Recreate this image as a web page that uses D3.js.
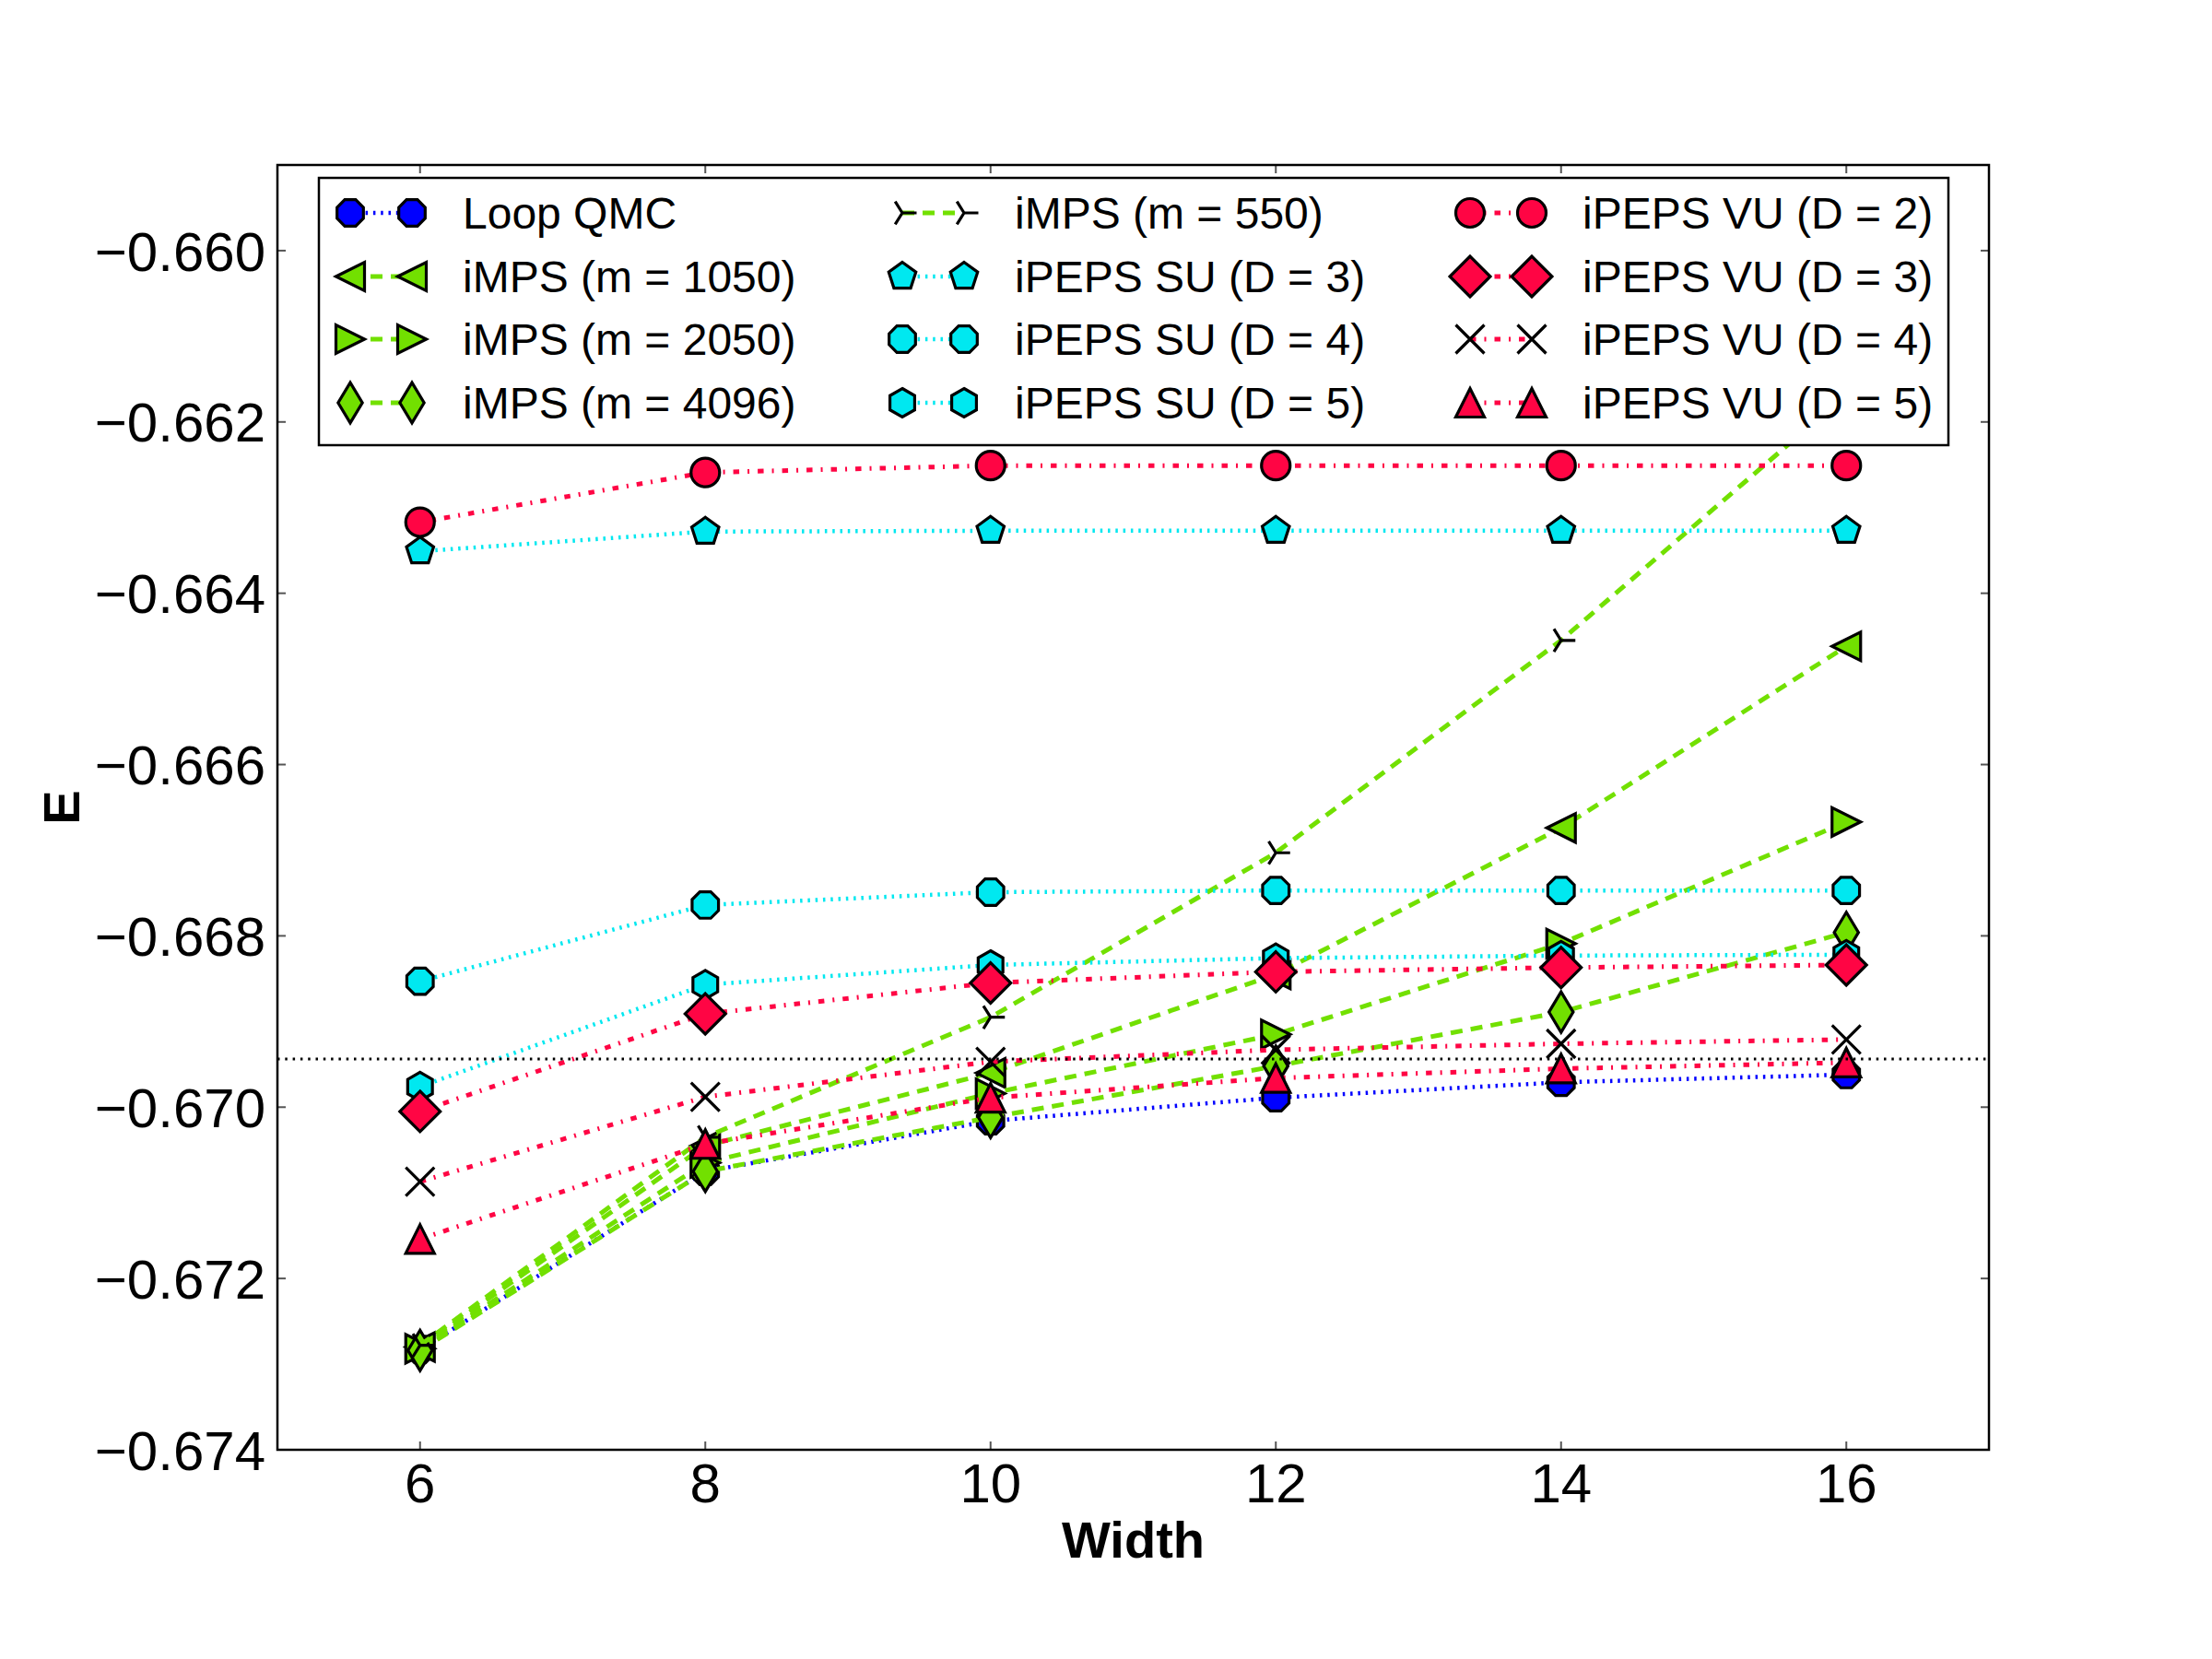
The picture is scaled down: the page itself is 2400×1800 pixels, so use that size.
<!DOCTYPE html>
<html>
<head>
<meta charset="utf-8">
<script src="https://cdn.jsdelivr.net/npm/d3@7"></script>
<style>
  body { margin: 0; background: #fff; }
  svg { display: block; }
  text { font-family: "Liberation Sans", Arial, sans-serif; fill: #000; }
</style>
</head>
<body>
<div class="chart"></div>
<script>
// values
const widths = [6, 8, 10, 12, 14, 16];

const loopQmc  = [-0.67283, -0.67075, -0.67016, -0.66989, -0.66971, -0.66962];
const imps1050 = [-0.67280, -0.67045, -0.66960, -0.66845, -0.66674, -0.66462];
const imps2050 = [-0.67282, -0.67065, -0.66984, -0.66915, -0.66809, -0.66667];
const imps4096 = [-0.67284, -0.67075, -0.67012, -0.66952, -0.66889, -0.66796];
const imps550  = [-0.67278, -0.67035, -0.66895, -0.66703, -0.66455, -0.66168];
const suD3 = [-0.66351, -0.66328, -0.66327, -0.66327, -0.66327, -0.66327];
const suD4 = [-0.66853, -0.66764, -0.66749, -0.66747, -0.66747, -0.66747];
const suD5 = [-0.66976, -0.66857, -0.66834, -0.66826, -0.66823, -0.66822];
const vuD2 = [-0.66317, -0.66259, -0.66251, -0.66251, -0.66251, -0.66251];
const vuD3 = [-0.67005, -0.66891, -0.66855, -0.66842, -0.66837, -0.66834];
const vuD4 = [-0.67087, -0.66988, -0.66947, -0.66933, -0.66926, -0.66921];
const vuD5 = [-0.67154, -0.67043, -0.66989, -0.66966, -0.66955, -0.66948];

const exactE = -0.669437;

const xTicks = [6, 8, 10, 12, 14, 16];
const yTicks = [-0.674, -0.672, -0.670, -0.668, -0.666, -0.664, -0.662, -0.660];

const blue = "#0000ff", green = "#72e000", cyan = "#00e8f0", red = "#ff0544";
const dotted = "2.5,5.8", dashed = "13,9", dashDot = "6.5,9,2,9";

const series = [
    { name: "Loop QMC",          values: loopQmc,  color: blue,  dash: dotted,  lw: 4.5, marker: "octagon",  fill: blue },
    { name: "iMPS (m = 1050)",   values: imps1050, color: green, dash: dashed,  lw: 5,   marker: "triLeft",  fill: green },
    { name: "iMPS (m = 2050)",   values: imps2050, color: green, dash: dashed,  lw: 5,   marker: "triRight", fill: green },
    { name: "iMPS (m = 4096)",   values: imps4096, color: green, dash: dashed,  lw: 5,   marker: "thinDiamond", fill: green },
    { name: "iMPS (m = 550)",    values: imps550,  color: green, dash: dashed,  lw: 5,   marker: "tri4",     fill: "none" },
    { name: "iPEPS SU (D = 3)",  values: suD3,     color: cyan,  dash: dotted,  lw: 4.5, marker: "pentagon", fill: cyan },
    { name: "iPEPS SU (D = 4)",  values: suD4,     color: cyan,  dash: dotted,  lw: 4.5, marker: "octagon",  fill: cyan },
    { name: "iPEPS SU (D = 5)",  values: suD5,     color: cyan,  dash: dotted,  lw: 4.5, marker: "hexagon",  fill: cyan },
    { name: "iPEPS VU (D = 2)",  values: vuD2,     color: red,   dash: dashDot, lw: 5,   marker: "circle",   fill: red },
    { name: "iPEPS VU (D = 3)",  values: vuD3,     color: red,   dash: dashDot, lw: 5,   marker: "diamond",  fill: red },
    { name: "iPEPS VU (D = 4)",  values: vuD4,     color: red,   dash: dashDot, lw: 5,   marker: "x",        fill: "none" },
    { name: "iPEPS VU (D = 5)",  values: vuD5,     color: red,   dash: dashDot, lw: 5,   marker: "triUp",    fill: red }
];

const W = 2400, H = 1800;
const margin = { left: 301, right: 2158, top: 179, bottom: 1573 };
const R = 15.5;

function polygon(n, r, startDeg) {
    const pts = d3.range(n).map(k => {
        const a = (startDeg + k * 360 / n) * Math.PI / 180;
        return [r * Math.cos(a), r * Math.sin(a)];
    });
    return "M" + pts.map(p => p[0].toFixed(2) + "," + p[1].toFixed(2)).join("L") + "Z";
}

function markerPath(type) {
    const dr = R * Math.SQRT2;
    switch (type) {
        case "octagon": return polygon(8, R, 22.5);
        case "pentagon": return polygon(5, R, -90);
        case "hexagon": return polygon(6, R, -90);
        case "circle": return `M${R},0A${R},${R} 0 1,1 ${-R},0A${R},${R} 0 1,1 ${R},0Z`;
        case "triUp": return `M0,${-R}L${R},${R}L${-R},${R}Z`;
        case "triLeft": return `M${-R},0L${R},${-R}L${R},${R}Z`;
        case "triRight": return `M${R},0L${-R},${R}L${-R},${-R}Z`;
        case "diamond": return `M0,${-dr}L${dr},0L0,${dr}L${-dr},0Z`;
        case "thinDiamond": return `M0,${-dr}L${dr * 0.6},0L0,${dr}L${-dr * 0.6},0Z`;
        case "x": return `M${-R},${-R}L${R},${R}M${-R},${R}L${R},${-R}`;
        case "tri4": return `M0,0L${R},0M0,0L${-R * 0.5},${-R * 0.8}M0,0L${-R * 0.5},${R * 0.8}`;
    }
}

function drawMarker(g, s, cx, cy) {
    g.append("path")
        .attr("d", markerPath(s.marker))
        .attr("transform", `translate(${cx},${cy})`)
        .attr("fill", s.fill)
        .attr("stroke", "#000")
        .attr("stroke-width", 3.2)
        .attr("stroke-linejoin", "miter");
}

const svg = d3.select(".chart").append("svg")
    .attr("width", W)
    .attr("height", H);

const x = d3.scaleLinear().domain([5, 17]).range([margin.left, margin.right]);
const y = d3.scaleLinear().domain([-0.674, -0.659]).range([margin.bottom, margin.top]);

svg.append("defs").append("clipPath").attr("id", "plot-clip")
    .append("rect")
    .attr("x", margin.left).attr("y", margin.top)
    .attr("width", margin.right - margin.left)
    .attr("height", margin.bottom - margin.top);

const plot = svg.append("g").attr("clip-path", "url(#plot-clip)");

const line = d3.line()
    .x((d, i) => x(widths[i]))
    .y(d => y(d));

series.forEach(s => {
    plot.append("path")
        .datum(s.values)
        .attr("fill", "none")
        .attr("stroke", s.color)
        .attr("stroke-width", s.lw)
        .attr("stroke-dasharray", s.dash)
        .attr("d", line);

    s.values.forEach((v, i) => drawMarker(plot, s, x(widths[i]), y(v)));
});

// exact value, horizontal dotted line
plot.append("line")
    .attr("x1", margin.left)
    .attr("x2", margin.right)
    .attr("y1", y(exactE))
    .attr("y2", y(exactE))
    .attr("stroke", "#000")
    .attr("stroke-width", 3)
    .attr("stroke-dasharray", dotted);

// ticks on all four sides, pointing in
const tickLen = 9;
const ticks = svg.append("g").attr("stroke", "#555").attr("stroke-width", 2);
xTicks.forEach(t => {
    ticks.append("line").attr("x1", x(t)).attr("x2", x(t)).attr("y1", margin.bottom).attr("y2", margin.bottom - tickLen);
    ticks.append("line").attr("x1", x(t)).attr("x2", x(t)).attr("y1", margin.top).attr("y2", margin.top + tickLen);
});
yTicks.forEach(t => {
    ticks.append("line").attr("x1", margin.left).attr("x2", margin.left + tickLen).attr("y1", y(t)).attr("y2", y(t));
    ticks.append("line").attr("x1", margin.right).attr("x2", margin.right - tickLen).attr("y1", y(t)).attr("y2", y(t));
});

svg.append("g").selectAll("text")
    .data(xTicks)
    .enter()
    .append("text")
    .attr("x", d => x(d))
    .attr("y", 1630)
    .style("font-size", "60px")
    .style("text-anchor", "middle")
    .text(d => d);

const yFormat = d3.format(".3f");
svg.append("g").selectAll("text")
    .data(yTicks)
    .enter()
    .append("text")
    .attr("x", 288)
    .attr("y", d => y(d))
    .attr("dy", "0.36em")
    .style("font-size", "60px")
    .style("text-anchor", "end")
    .text(d => yFormat(d));

// frame
svg.append("rect")
    .attr("x", margin.left).attr("y", margin.top)
    .attr("width", margin.right - margin.left)
    .attr("height", margin.bottom - margin.top)
    .attr("fill", "none")
    .attr("stroke", "#000")
    .attr("stroke-width", 2.5);

svg.append("text")
    .text("Width")
    .attr("x", (margin.left + margin.right) / 2)
    .attr("y", 1690)
    .style("font-size", "56px")
    .style("font-weight", "bold")
    .style("text-anchor", "middle");

svg.append("text")
    .text("E")
    .attr("transform", `translate(86,${(margin.top + margin.bottom) / 2}) rotate(-90)`)
    .style("font-size", "56px")
    .style("font-weight", "bold")
    .style("text-anchor", "middle");

// legend, three columns of four
const legend = svg.append("g");
legend.append("rect")
    .attr("x", 346).attr("y", 193)
    .attr("width", 2114 - 346).attr("height", 483 - 193)
    .attr("fill", "#fff")
    .attr("stroke", "#000")
    .attr("stroke-width", 2.5);

const colX = [380, 979, 1595];
const rowY = [231, 300, 368, 437];
const markerGap = 67;

series.forEach((s, k) => {
    const mx = colX[Math.floor(k / 4)];
    const my = rowY[k % 4];
    const item = legend.append("g");

    item.append("line")
        .attr("x1", mx).attr("x2", mx + markerGap)
        .attr("y1", my).attr("y2", my)
        .attr("stroke", s.color)
        .attr("stroke-width", s.lw)
        .attr("stroke-dasharray", s.dash);

    drawMarker(item, s, mx, my);
    drawMarker(item, s, mx + markerGap, my);

    item.append("text")
        .text(s.name)
        .attr("x", mx + 122)
        .attr("y", my)
        .attr("dy", "0.36em")
        .style("font-size", "48px");
});
</script>
</body>
</html>
